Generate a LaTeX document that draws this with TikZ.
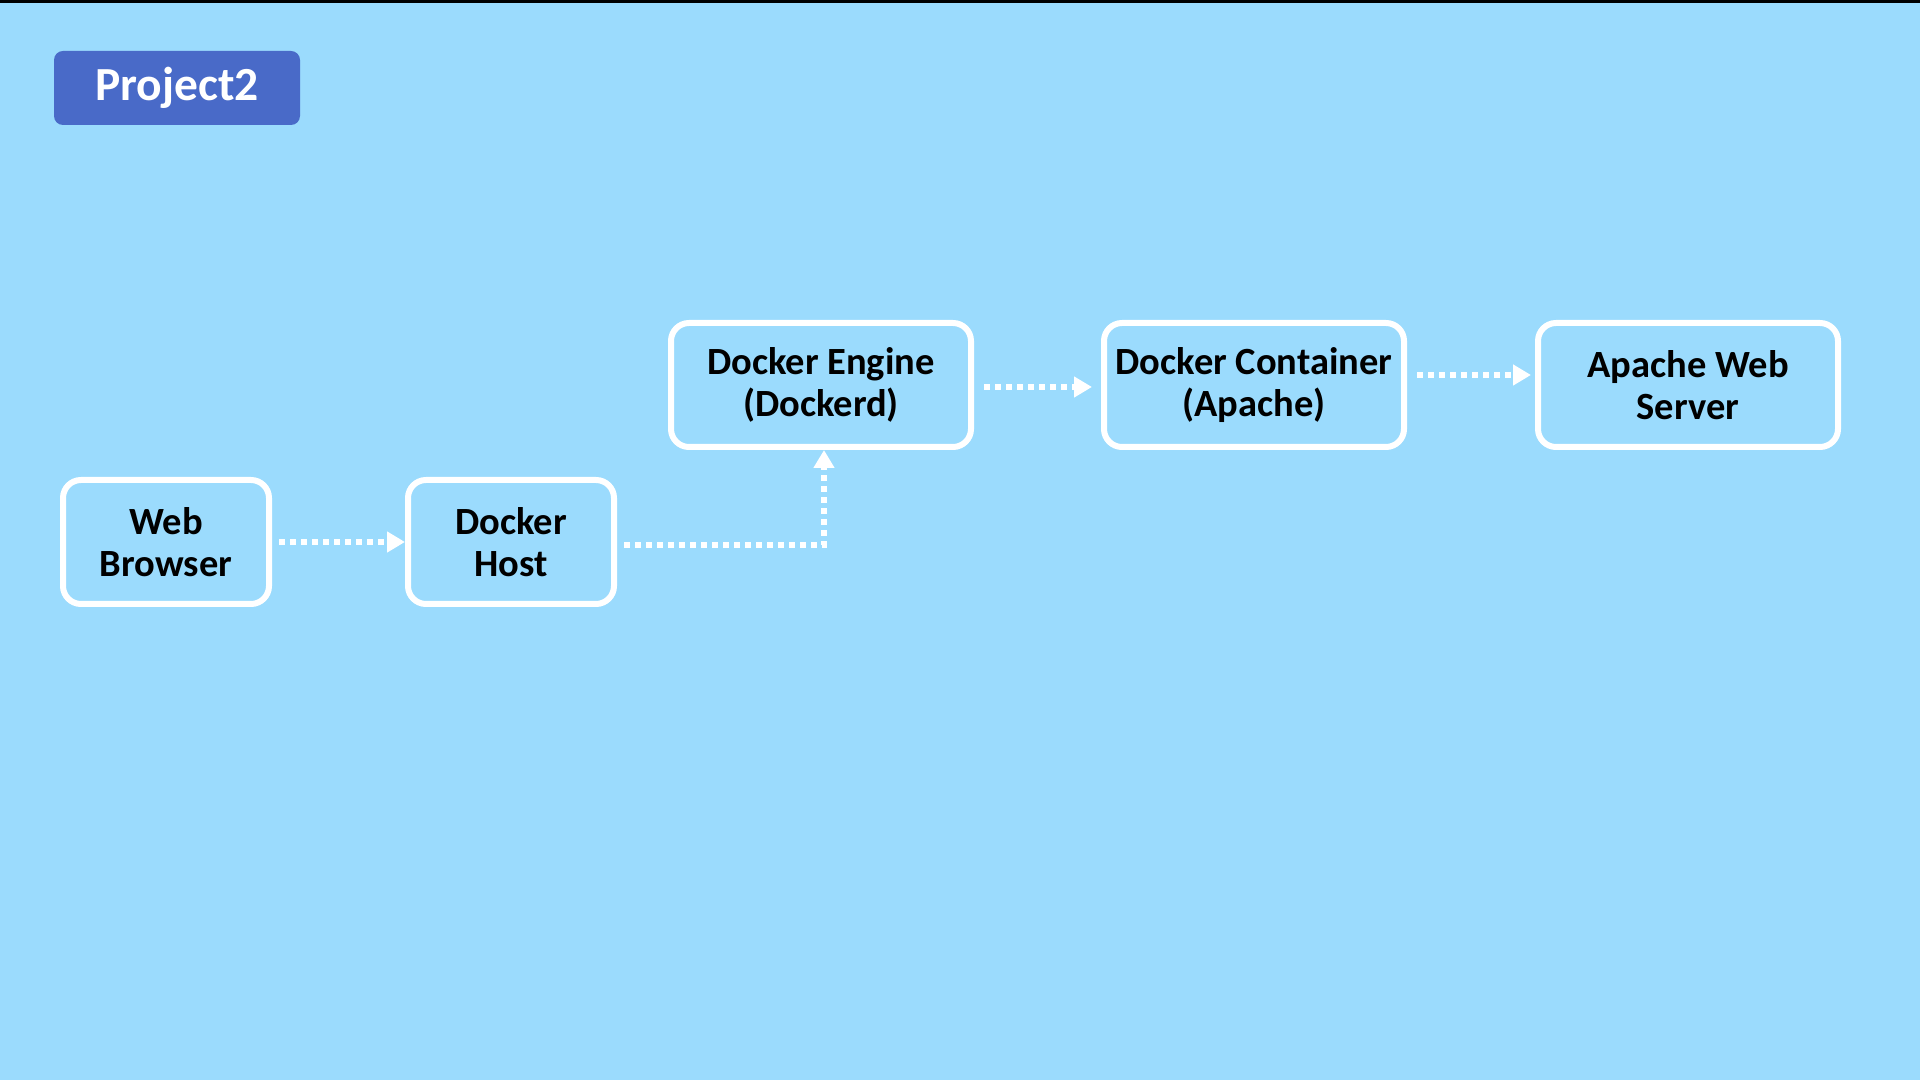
\documentclass[tikz,border=0pt]{standalone}
\usepackage{fontspec}
\setmainfont{Carlito}
\usepackage{tikz}
\usetikzlibrary{arrows.meta}
\definecolor{bgblue}{RGB}{155,219,253}
\definecolor{titleblue}{RGB}{73,106,200}
\tikzset{
  box/.style={draw=white, line width=6pt, rounded corners=18pt, minimum width=206pt,
    minimum height=124pt, align=center, font=\bfseries\fontsize{38.5}{42}\selectfont},
  widebox/.style={box, minimum width=300pt},
  flow/.style={white, line width=6pt, dash pattern=on 6pt off 5pt,
    -{Triangle[length=18pt, width=20pt]}, shorten <=7pt}
}

\begin{document}
\begin{tikzpicture}[x=1pt, y=1pt]
        % Background
        \fill[bgblue] (0,0) rectangle (1920,1080);
        \fill[black] (0,1077) rectangle (1920,1080);

        % Nodes
        \node[fill=titleblue, rounded corners=9pt, minimum width=246pt, minimum height=74pt,
          text=white, font=\bfseries\fontsize{47.5}{52}\selectfont] (title) at (177,992) {Project2};
        \node[box] (browser) at (166,538) {Web\\Browser};
        \node[box] (host) at (511,538) {Docker\\Host};
        \node[widebox] (engine) at (821,695) {Docker Engine\\(Dockerd)};
        \node[widebox] (container) at (1254,695) {Docker Container\\(Apache)};
        \node[widebox] (apache) at (1688,695) {Apache Web\\Server};

        % Edges
        \draw[flow] (browser) -- (host);
        \draw[flow] ([yshift=-3pt]host.east) -- ([xshift=3pt,yshift=-3pt]host.east -| engine.south) -- ([xshift=3pt]engine.south);
        \draw[flow, shorten <=10pt, shorten >=9pt] ([yshift=-2pt]engine.east) -- ([yshift=-2pt]container.west);
        \draw[flow, shorten <=10pt, shorten >=4pt] ([yshift=10pt]container.east) -- ([yshift=10pt]apache.west);

    \end{tikzpicture}
\end{document}
